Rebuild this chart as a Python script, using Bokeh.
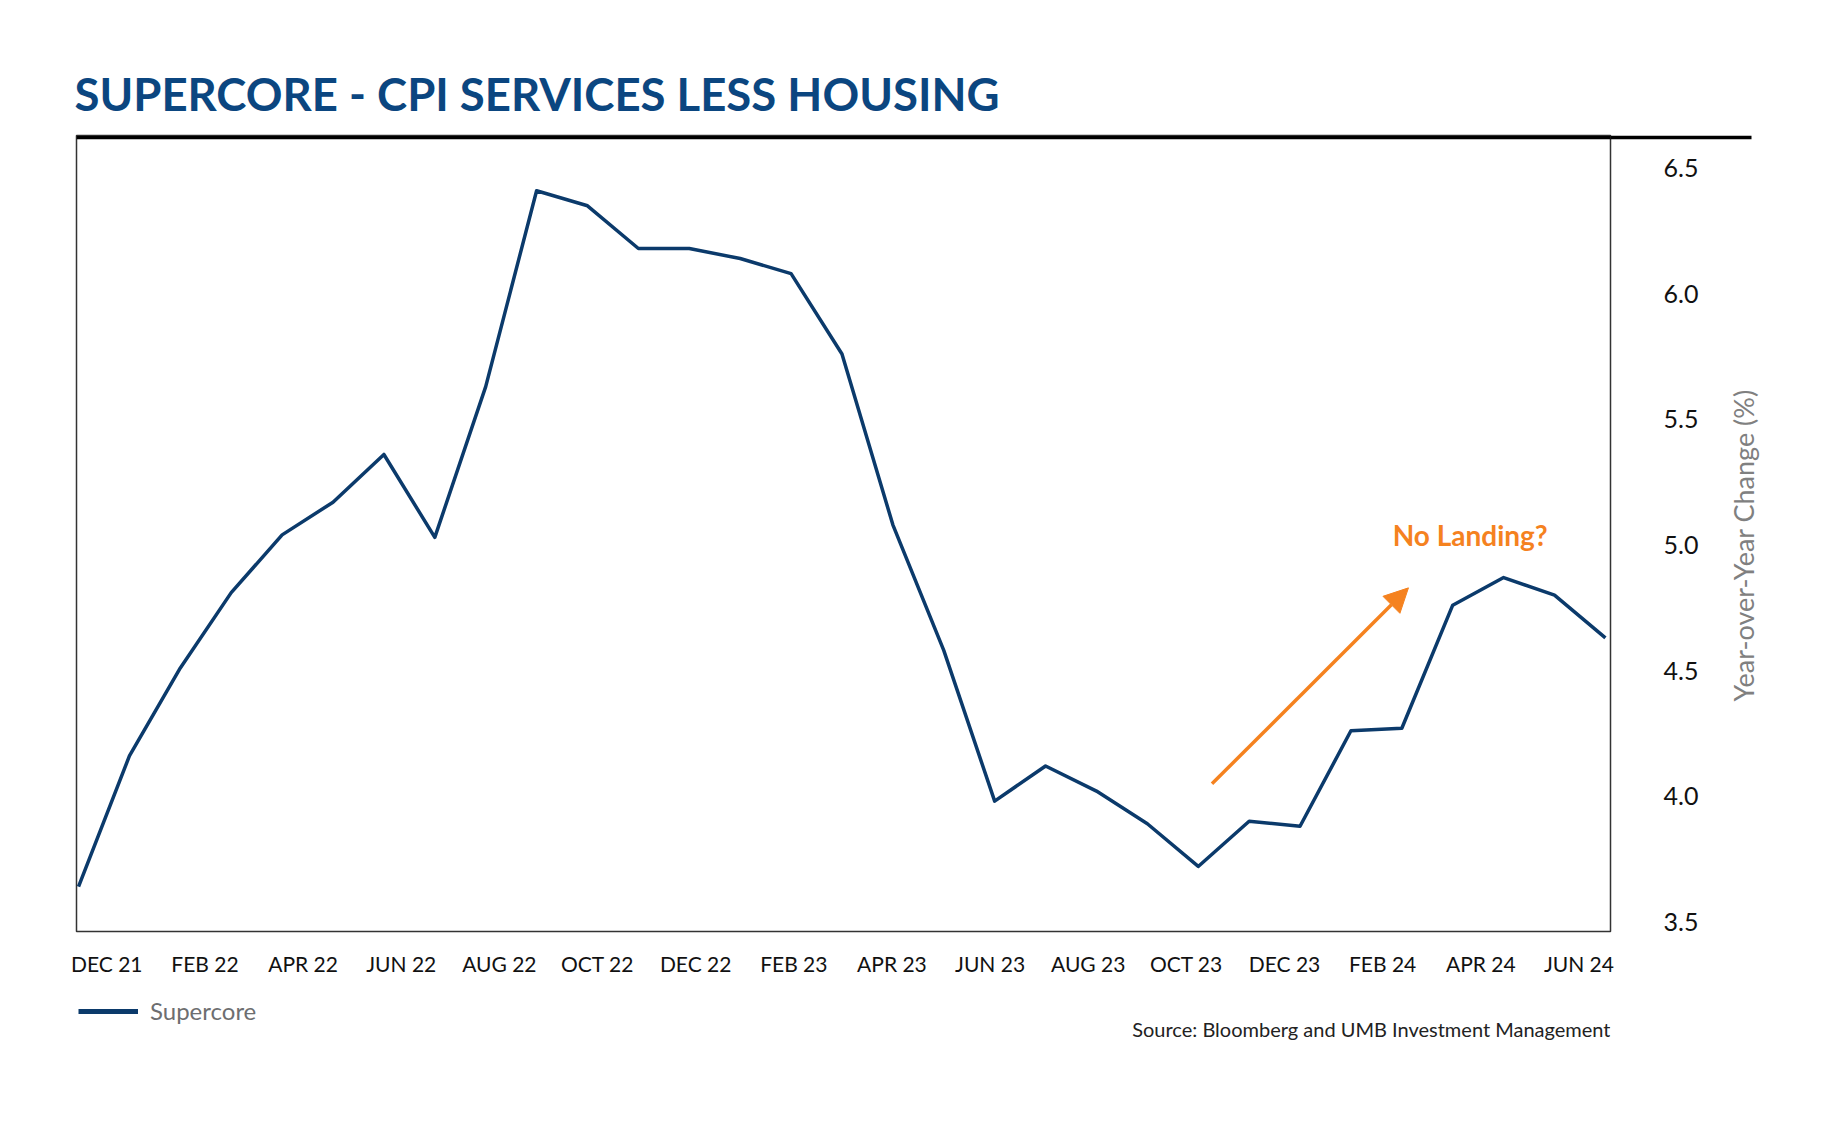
import math
import numpy as np
from bokeh.plotting import figure
from bokeh.layouts import column
from bokeh.models import (ColumnDataSource, FixedTicker, Range1d, Label, Arrow, NormalHead,
                          Legend, LegendItem, NumeralTickFormatter, Span, LinearAxis)
from bokeh.embed import file_html
from bokeh.resources import INLINE

# ---- data ----
months = ["DEC 21", "JAN 22", "FEB 22", "MAR 22", "APR 22", "MAY 22", "JUN 22", "JUL 22",
          "AUG 22", "SEP 22", "OCT 22", "NOV 22", "DEC 22", "JAN 23", "FEB 23", "MAR 23",
          "APR 23", "MAY 23", "JUN 23", "JUL 23", "AUG 23", "SEP 23", "OCT 23", "NOV 23",
          "DEC 23", "JAN 24", "FEB 24", "MAR 24", "APR 24", "MAY 24", "JUN 24"]
supercore = [3.64, 4.16, 4.51, 4.81, 5.04, 5.17, 5.36, 5.03, 5.63, 6.41, 6.35, 6.18, 6.18,
             6.14, 6.08, 5.76, 5.08, 4.58, 3.98, 4.12, 4.02, 3.89, 3.72, 3.90, 3.88, 4.26,
             4.27, 4.76, 4.87, 4.80, 4.63]
tick_labels = ["DEC 21", "FEB 22", "APR 22", "JUN 22", "AUG 22", "OCT 22", "DEC 22", "FEB 23",
               "APR 23", "JUN 23", "AUG 23", "OCT 23", "DEC 23", "FEB 24", "APR 24", "JUN 24"]
y_ticks = [3.5, 4.0, 4.5, 5.0, 5.5, 6.0, 6.5]
y_title = "Year-over-Year Change (%)"

NAVY = "#0B3A6B"
TITLE = "#0B4680"
ORANGE = "#F5821F"
FONT = "Lato"

Y_START = 3.461
Y_END = 6.6298      # frame top
RULE_Y = 6.6218     # thick rule just under the frame top
Y_TITLE_AT = 4.377  # where the rotated y title starts
W = 1779
H = 981

x_idx = list(range(len(months)))
src = ColumnDataSource(dict(x=x_idx, y=supercore, month=months))

p = figure(width=W, height=H, output_backend="svg", toolbar_location=None,
           x_range=Range1d(-0.04, 30.1), y_range=Range1d(Y_START, Y_END),
           y_axis_location="right", min_border_left=76, min_border_top=135,
           min_border_bottom=H - 931, min_border_right=W - 1614,
           background_fill_color="white", border_fill_color="white")

p.title.text = "SUPERCORE - CPI SERVICES LESS HOUSING"
p.title.text_font = FONT
p.title.text_font_style = "bold"
p.title.text_font_size = "45.5px"
p.title.text_color = TITLE
p.title.standoff = 29
p.title.offset = -2

p.grid.visible = False
p.outline_line_color = "#333333"
p.outline_line_width = 1.5

line = p.line("x", "y", source=src, line_color=NAVY, line_width=3.5, line_join="round")

# thick rule across the top of the plot box
p.add_layout(Span(location=RULE_Y, dimension="width", line_color="black", line_width=3.5))

# x axis
xa = p.xaxis[0]
tick_pos = list(np.linspace(0.555, 29.48, len(tick_labels)))
xa.ticker = FixedTicker(ticks=tick_pos)
xa.major_label_overrides = {t: l for t, l in zip(tick_pos, tick_labels)}
xa.axis_line_color = None
xa.major_tick_line_color = None
xa.minor_tick_line_color = None
xa.major_label_standoff = 13
xa.major_label_text_font = FONT
xa.major_label_text_font_size = "21px"
xa.major_label_text_color = "#111111"

# y axis (right); its one minor tick continues the top rule past the plot box
ya = p.yaxis[0]
ya.ticker = FixedTicker(ticks=y_ticks, minor_ticks=[RULE_Y])
ya.formatter = NumeralTickFormatter(format="0.0")
ya.axis_line_color = None
ya.major_tick_line_color = None
ya.minor_tick_in = 0
ya.minor_tick_out = 141
ya.minor_tick_line_color = "black"
ya.minor_tick_line_width = 3.5
ya.major_label_standoff = 53 - 141
ya.major_label_text_font = FONT
ya.major_label_text_font_size = "25px"
ya.major_label_text_color = "#111111"

# second right axis that carries the rotated y title (reads bottom to top)
ylab = LinearAxis(ticker=FixedTicker(ticks=[Y_TITLE_AT]),
                  major_label_overrides={Y_TITLE_AT: y_title},
                  major_label_orientation=math.pi / 2,
                  axis_line_color=None, major_tick_line_color=None,
                  minor_tick_line_color=None, major_tick_out=0, minor_tick_out=0,
                  major_label_standoff=42, major_label_text_font=FONT,
                  major_label_text_font_size="27px", major_label_text_color="#808080")
p.add_layout(ylab, "right")

# annotation arrow + text
p.add_layout(Arrow(x_start=22.27, y_start=4.049, x_end=26.13, y_end=4.829,
                   line_color=ORANGE, line_width=3.5,
                   end=NormalHead(size=24, fill_color=ORANGE, line_color=ORANGE)))
p.add_layout(Label(x=25.82, y=5.04, text="No Landing?", text_font=FONT,
                   text_font_style="bold", text_font_size="28px", text_color=ORANGE,
                   text_baseline="alphabetic"))

# ---- footer strip (aligned with the plot box): legend + source ----
FH = 80
f = figure(width=W, height=FH, output_backend="svg", toolbar_location=None,
           x_range=Range1d(76, 1614), y_range=Range1d(0, FH), x_axis_type=None,
           y_axis_type=None, min_border=0, outline_line_color=None,
           background_fill_color="white", border_fill_color="white")
f.grid.visible = False
# same series, outside this strip's view; it only supplies the legend key
key = f.line("x", "y", source=src, line_color=NAVY, line_width=5)
f.add_layout(Legend(items=[LegendItem(label="Supercore", renderers=[key])],
                    location=(2, 36), orientation="horizontal",
                    border_line_color=None, background_fill_alpha=0,
                    padding=0, margin=0, glyph_width=60, glyph_height=24, label_height=24,
                    label_standoff=12, label_text_font=FONT, label_text_font_size="24px",
                    label_text_color="#6D6E70"))
f.add_layout(Label(x=1614, y=33, text="Source: Bloomberg and UMB Investment Management",
                   text_align="right", text_baseline="middle", text_font=FONT,
                   text_font_size="20px", text_color="#222222"))

open("out.html", "w").write(file_html(column(p, f, spacing=0), INLINE))
